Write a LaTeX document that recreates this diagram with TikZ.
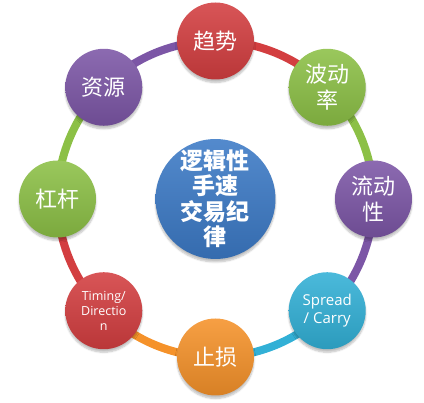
\documentclass[tikz,border=0pt]{standalone}
\usepackage{fontspec}
\usetikzlibrary{shadows.blur}
\newfontfamily\cjk{Noto Sans CJK SC}
\newfontfamily\latin{Open Sans}
\definecolor{redcol}{RGB}{211, 62, 64}
\definecolor{greencol}{RGB}{140, 192, 70}
\definecolor{purplecol}{RGB}{124, 86, 166}
\definecolor{cyancol}{RGB}{50, 176, 214}
\definecolor{orangecol}{RGB}{245, 146, 42}
\definecolor{bluecol}{RGB}{60, 122, 198}
\tikzset{
  item/.style={circle, minimum size=77pt, inner sep=0pt, align=center, text=white,
               font=\cjk\fontsize{22}{26.5}\selectfont,
               blur shadow={shadow xshift=0pt, shadow yshift=-3pt, shadow blur steps=6,
                            shadow opacity=25}},
  itemlatin/.style={item, font=\latin\fontsize{12.5}{15}\selectfont},
  ring/.style={line width=8pt},
  shade of/.style={top color=#1!88!white, bottom color=#1!88!black},
}

\begin{document}
\begin{tikzpicture}
  \useasboundingbox (-215.5pt,-204pt) rectangle (208.5pt,199pt);
  % --- ring, one arc per pair ---
  \coordinate (o) at (0,0);
  \node[inner sep=0pt] (trend) at (90:158pt) {};
  \node[inner sep=0pt] (vol)   at (45:158pt) {};
  \node[inner sep=0pt] (liq)   at (0:158pt) {};
  \node[inner sep=0pt] (sprd)  at (-45:158pt) {};
  \node[inner sep=0pt] (stop)  at (-90:158pt) {};
  \node[inner sep=0pt] (tim)   at (-135:158pt) {};
  \node[inner sep=0pt] (lev)   at (180:158pt) {};
  \node[inner sep=0pt] (res)   at (135:158pt) {};
  \draw[ring, redcol]    (trend.center) arc[start angle=90, end angle=45, radius=158pt];
  \draw[ring, greencol]  (vol.center) arc[start angle=45, end angle=0, radius=158pt];
  \draw[ring, purplecol] (liq.center) arc[start angle=0, end angle=-45, radius=158pt];
  \draw[ring, cyancol]   (sprd.center) arc[start angle=-45, end angle=-90, radius=158pt];
  \draw[ring, orangecol] (stop.center) arc[start angle=-90, end angle=-135, radius=158pt];
  \draw[ring, redcol]    (tim.center) arc[start angle=-135, end angle=-180, radius=158pt];
  \draw[ring, greencol]  (lev.center) arc[start angle=180, end angle=135, radius=158pt];
  \draw[ring, purplecol] (res.center) arc[start angle=135, end angle=90, radius=158pt];

  % --- circles ---
  \node[item, shade of=redcol]    at (trend) {趋势};
  \node[item, shade of=greencol]  at (vol) {波动\\率};
  \node[item, shade of=purplecol] at (liq) {流动\\性};
  \node[itemlatin, shade of=cyancol, font=\latin\fontsize{15}{18}\selectfont] at (sprd) {Spread\\/ Carry};
  \node[item, shade of=orangecol] at (stop) {止损};
  \node[itemlatin, shade of=redcol] at (tim) {Timing/\\Directio\\n};
  \node[item, shade of=greencol]  at (lev) {杠杆};
  \node[item, shade of=purplecol] at (res) {资源};

  % --- center ---
  \node[item, shade of=bluecol, minimum size=110pt,
        font=\cjk\bfseries\fontsize{23}{25.5}\selectfont] (core) at (o)
        {逻辑性\\手速\\交易纪\\律};
\end{tikzpicture}
\end{document}
